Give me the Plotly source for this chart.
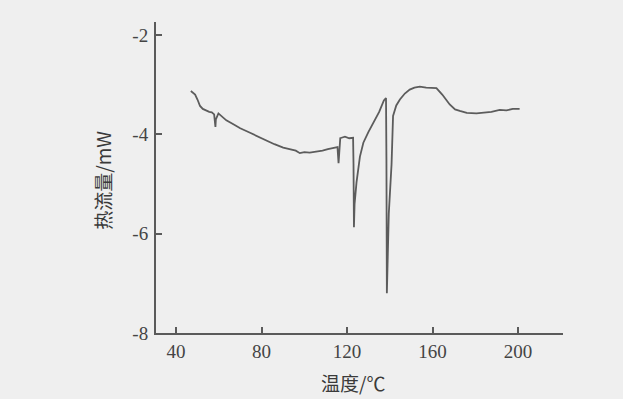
import plotly.graph_objects as go

# DSC curve
temperature = [46.9, 48.9, 50.0, 51.2, 52.5, 54.3, 55.5, 56.7, 57.8, 58.4, 58.6, 59.8, 61.5, 63.5, 66.8,
               70.0, 74.6, 78.0, 82.4, 86.0, 90.1, 93.5, 96.0, 97.9, 100.0, 102.5, 105.7, 108.5, 111.0,
               113.5, 115.5, 116.0, 116.3, 116.8, 117.4, 119.0, 121.0, 122.8, 123.0, 123.2, 123.5,
               124.4, 126.0, 127.6, 130.0, 132.2, 135.0, 137.2, 138.2, 138.4, 138.6, 139.5, 140.3,
               140.8, 141.5, 143.0, 144.7, 147.0, 149.3, 151.5, 154.0, 157.0, 161.8, 164.5, 168.0,
               170.5, 172.7, 176.0, 180.5, 184.0, 187.5, 191.4, 194.5, 197.5, 200.7]
heat_flow = [-3.13, -3.20, -3.30, -3.43, -3.49, -3.53, -3.55, -3.56, -3.60, -3.85, -3.70, -3.58, -3.64,
             -3.72, -3.80, -3.88, -3.97, -4.04, -4.13, -4.20, -4.27, -4.31, -4.33, -4.38, -4.36, -4.37,
             -4.35, -4.33, -4.30, -4.27, -4.26, -4.58, -4.30, -4.08, -4.07, -4.05, -4.08, -4.07, -4.60,
             -5.87, -5.40, -4.97, -4.45, -4.17, -3.95, -3.77, -3.55, -3.32, -3.27, -4.50, -7.20, -5.60,
             -5.00, -4.60, -3.63, -3.42, -3.30, -3.18, -3.10, -3.06, -3.04, -3.06, -3.07, -3.20, -3.40,
             -3.50, -3.53, -3.57, -3.58, -3.56, -3.55, -3.51, -3.52, -3.49, -3.49]

x_ticks = [40, 80, 120, 160, 200]
y_ticks = [-8, -6, -4, -2]
x_title = "温度/℃"
y_title = "热流量/mW"

ink = "#5a5a5a"
paper = "#efefef"
serif = "Liberation Serif, Times New Roman, DejaVu Serif, serif"

fig = go.Figure()
fig.add_trace(go.Scatter(x=temperature, y=heat_flow, mode="lines",
                         line=dict(color="#5c5c5c", width=1.8), showlegend=False))

axis_common = dict(showline=True, linecolor=ink, linewidth=2, ticks="inside", ticklen=6,
                   tickwidth=1.5, tickcolor=ink, showgrid=False, zeroline=False,
                   tickfont=dict(family=serif, size=19, color="#444"))
fig.update_xaxes(range=[30.6, 221], tickvals=x_ticks, ticktext=[str(v) for v in x_ticks], **axis_common)
fig.update_yaxes(range=[-8, -1.74], tickvals=y_ticks, ticktext=[str(v) for v in y_ticks], ticklabelstandoff=2,
                 **axis_common)

fig.add_annotation(text=y_title, xref="paper", yref="paper", x=-0.13, y=0.49, textangle=-90,
                   xanchor="center", yanchor="middle",
                   showarrow=False, font=dict(family="Noto Sans CJK SC", size=19, color="#3a3a3a"))
fig.add_annotation(text=x_title, xref="paper", yref="paper", x=0.484, y=-0.158,
                   xanchor="center", yanchor="middle",
                   showarrow=False, font=dict(family="Noto Sans CJK SC", size=19, color="#3a3a3a"))

fig.update_layout(width=623, height=399, paper_bgcolor=paper, plot_bgcolor=paper,
                  margin=dict(l=156, r=60, t=22, b=66))
fig.write_html("out.html", config={"displayModeBar": False},
               post_script="document.body.style.margin='0';document.body.style.background='#efefef';")
